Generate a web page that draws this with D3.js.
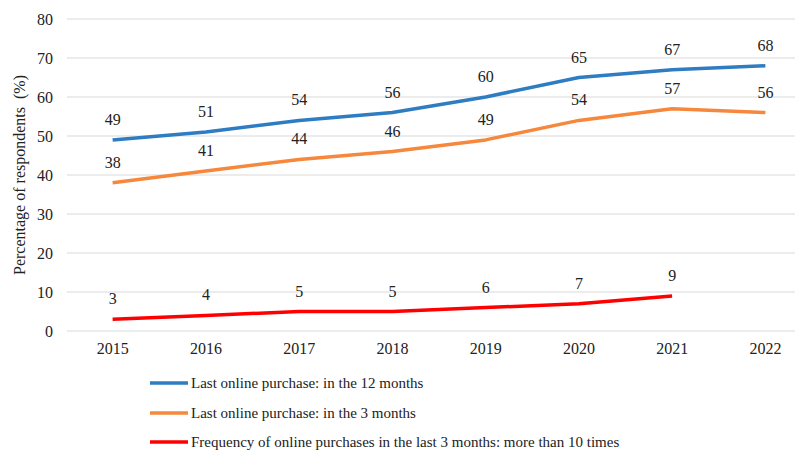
<!DOCTYPE html>
<html>
<head>
<meta charset="utf-8">
<script src="https://cdn.jsdelivr.net/npm/d3@7/dist/d3.min.js"></script>
<style>
  html, body { margin: 0; padding: 0; background: #fff; }
  svg { display: block; }
  svg text { font-family: "Liberation Serif", "DejaVu Serif", serif; fill: #222; }
</style>
</head>
<body>
<svg id="chart" width="795" height="454"></svg>
<script>
// Survey years and share of respondents (%)
const years = ["2015", "2016", "2017", "2018", "2019", "2020", "2021", "2022"];
const last12Months = [49, 51, 54, 56, 60, 65, 67, 68];
const last3Months = [38, 41, 44, 46, 49, 54, 57, 56];
const moreThan10Times = [3, 4, 5, 5, 6, 7, 9, null];
const yTicks = [0, 10, 20, 30, 40, 50, 60, 70, 80];

const seriesNames = [
  "Last online purchase: in the 12 months",
  "Last online purchase: in the 3 months",
  "Frequency of online purchases in the last 3 months: more than 10 times"
];
const seriesColors = ["#2E7CC1", "#F5883C", "#FF0000"];
const seriesValues = [last12Months, last3Months, moreThan10Times];

const FONT = "'Liberation Serif', 'DejaVu Serif', serif";
const svg = d3.select("#chart");
const W = 795;

const x = d3.scaleBand().domain(years).range([66, 812]);
const y = d3.scaleLinear().domain([0, 80]).range([331, 19]);

// Horizontal gridlines
svg.append("g")
  .selectAll("line")
  .data(yTicks)
  .join("line")
  .attr("x1", 67).attr("x2", W)
  .attr("y1", d => y(d)).attr("y2", d => y(d))
  .attr("stroke", "#d9d9d9").attr("stroke-width", 1);

// Y axis labels
const yAxis = d3.axisLeft(y).tickValues(yTicks).tickSize(0).tickPadding(0);
svg.append("g")
  .attr("transform", "translate(53,0)")
  .call(yAxis)
  .attr("font-family", FONT).attr("font-size", 16)
  .call(g => g.select(".domain").remove())
  .call(g => g.selectAll("text").attr("fill", "#222"));

// X axis labels
const xAxis = d3.axisBottom(x).tickSize(0).tickPadding(0);
svg.append("g")
  .attr("transform", "translate(0,343)")
  .call(xAxis)
  .attr("font-family", FONT).attr("font-size", 16)
  .call(g => g.select(".domain").remove())
  .call(g => g.selectAll("text").attr("fill", "#222"));

// Y axis title
svg.append("text")
  .attr("transform", "translate(25,175) rotate(-90)")
  .attr("text-anchor", "middle")
  .style("font-size", "16px")
  .style("white-space", "pre")
  .text("Percentage of respondents  (%)");

const cx = d => x(d) + x.bandwidth() / 2;

const line = d3.line()
  .defined(d => d.v != null)
  .x(d => cx(d.year))
  .y(d => y(d.v));

seriesValues.forEach((vals, i) => {
  const pts = years.map((yr, j) => ({ year: yr, v: vals[j] }));
  svg.append("path")
    .datum(pts)
    .attr("fill", "none")
    .attr("stroke", seriesColors[i])
    .attr("stroke-width", 3.5)
    .attr("stroke-linejoin", "round")
    .attr("d", line);

  svg.append("g")
    .selectAll("text")
    .data(pts.filter(d => d.v != null))
    .join("text")
    .attr("x", d => cx(d.year))
    .attr("y", d => y(d.v) - 15)
    .attr("text-anchor", "middle")
    .style("font-size", "16px")
    .text(d => d.v);
});

// Legend
const legendRows = [383, 413, 442];
seriesNames.forEach((name, i) => {
  const g = svg.append("g").attr("transform", `translate(150,${legendRows[i]})`);
  g.append("line")
    .attr("x1", 0).attr("x2", 38)
    .attr("y1", 0).attr("y2", 0)
    .attr("stroke", seriesColors[i]).attr("stroke-width", 3.5);
  g.append("text")
    .attr("x", 41).attr("y", 5)
    .style("font-size", "15px")
    .text(name);
});
</script>
</body>
</html>
